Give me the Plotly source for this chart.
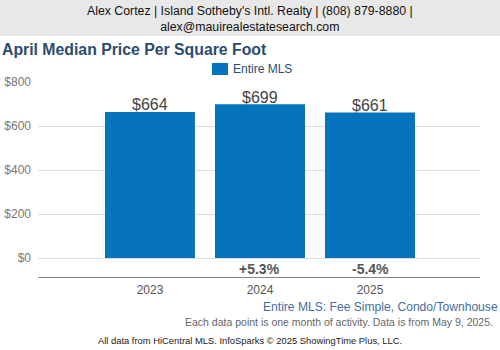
import plotly.graph_objects as go

years = ["2023", "2024", "2025"]
values = [664, 699, 661]
bar_labels = ["$664", "$699", "$661"]
pct_changes = ["", "+5.3%", "-5.4%"]
y_ticks = [0, 200, 400, 600, 800]
y_tick_labels = ["$0", "$200", "$400", "$600", "$800"]

FONT = "Liberation Sans, Arial, sans-serif"
W, H = 500, 350
L, R, T, B = 38, 20, 82, 73
PW, PH = W - L - R, H - T - B


def px(x):
    return (x - L) / PW


def py(y):
    return (H - B - y) / PH


fig = go.Figure()
fig.add_trace(go.Bar(
    x=years, y=values, name="Entire MLS", showlegend=False,
    marker=dict(color="#0574BC", line=dict(width=0)),
))

annotations = []
for i, (v, lab) in enumerate(zip(values, bar_labels)):
    annotations.append(dict(x=i, y=v, xref="x", yref="y", text=lab, showarrow=False,
                            yanchor="middle", yshift=7,
                            font=dict(size=16, color="#444444", family=FONT)))
for i, p in enumerate(pct_changes):
    if p:
        annotations.append(dict(x=i, y=-50, xref="x", yref="y", text="<b>" + p + "</b>",
                                showarrow=False, yanchor="middle",
                                font=dict(size=14, color="#555555", family=FONT)))

annotations += [
    dict(x=px(250), y=py(19), xref="paper", yref="paper", showarrow=False,
         text="Alex Cortez | Island Sotheby's Intl. Realty | (808) 879-8880 |<br>alex@mauirealestatesearch.com",
         font=dict(size=12.3, color="#111111", family=FONT), xanchor="center", yanchor="middle"),
    dict(x=px(0), y=py(50), xref="paper", yref="paper", showarrow=False,
         text="<b>April Median Price Per Square Foot</b>",
         font=dict(size=15.8, color="#2B4C71", family=FONT), xanchor="left", yanchor="middle"),
    dict(x=px(231), y=py(69), xref="paper", yref="paper", showarrow=False,
         text="Entire MLS",
         font=dict(size=12, color="#2B4C71", family=FONT), xanchor="left", yanchor="middle"),
    dict(x=px(500), y=py(306.5), xref="paper", yref="paper", showarrow=False,
         text="Entire MLS: Fee Simple, Condo/Townhouse",
         font=dict(size=12.1, color="#3F6FA5", family=FONT), xanchor="right", yanchor="middle"),
    dict(x=px(495), y=py(321.5), xref="paper", yref="paper", showarrow=False,
         text="Each data point is one month of activity. Data is from May 9, 2025.",
         font=dict(size=10.5, color="#666666", family=FONT), xanchor="right", yanchor="middle"),
    dict(x=px(250), y=py(340), xref="paper", yref="paper", showarrow=False,
         text="All data from HiCentral MLS. InfoSparks © 2025 ShowingTime Plus, LLC.",
         font=dict(size=9.4, color="#222222", family=FONT), xanchor="center", yanchor="middle"),
]

shapes = [
    dict(type="rect", xref="paper", yref="paper", x0=px(0), x1=px(500),
         y0=py(36), y1=py(0), fillcolor="#E8E8E8", line=dict(width=0), layer="below"),
    dict(type="rect", xref="paper", yref="paper", x0=px(212), x1=px(228),
         y0=py(75), y1=py(63), fillcolor="#0574BC", line=dict(width=0), layer="above"),
]

fig.update_layout(
    template="none",
    width=W, height=H,
    margin=dict(l=L, r=R, t=T, b=B, pad=0, autoexpand=False),
    paper_bgcolor="white", plot_bgcolor="white",
    font=dict(family=FONT),
    bargap=0.182,
    showlegend=False,
    shapes=shapes,
    annotations=annotations,
    xaxis=dict(type="category", range=[-1.018, 3.0], showgrid=False, showline=True,
               linecolor="#888888", linewidth=1, ticks="", automargin=False,
               ticklabelstandoff=2,
               tickfont=dict(size=12, color="#555555", family=FONT), fixedrange=True),
    yaxis=dict(range=[-86, 800], tickvals=y_ticks, ticktext=y_tick_labels,
               showgrid=True, gridcolor="#DDDDDD", gridwidth=1,
               zeroline=True, zerolinecolor="#DDDDDD", zerolinewidth=1,
               showline=False, ticks="", automargin=False, ticklabelstandoff=6,
               tickfont=dict(size=12, color="#777777", family=FONT), fixedrange=True),
)

fig.write_html("out.html", config={"displayModeBar": False})
